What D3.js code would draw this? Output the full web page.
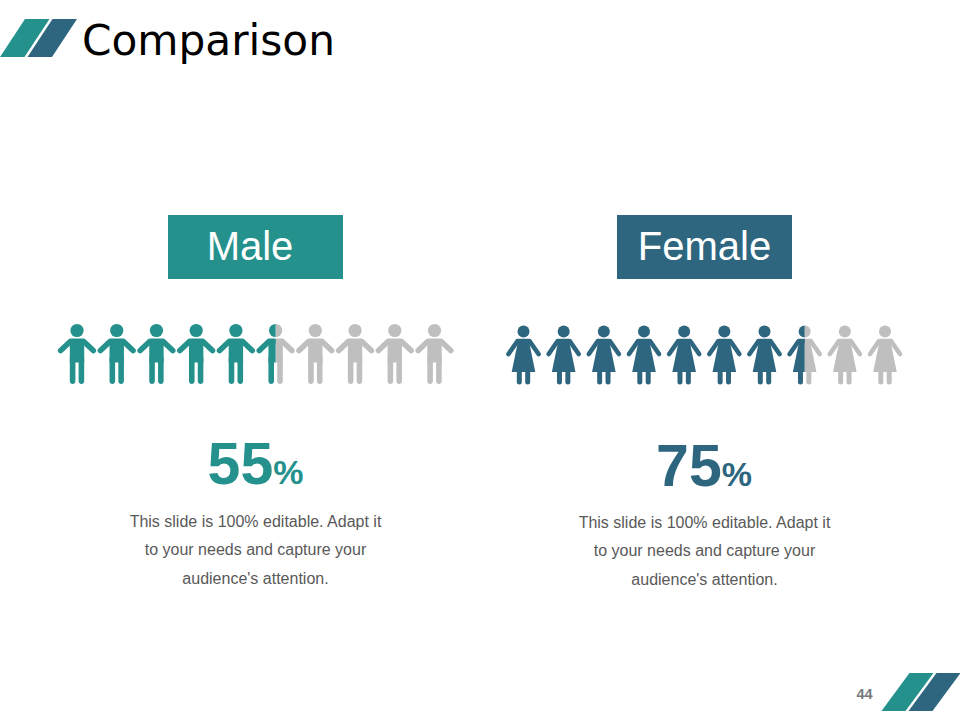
<!DOCTYPE html>
<html><head><meta charset="utf-8">
<script src="https://cdn.jsdelivr.net/npm/d3@7"></script>
<style>html,body{margin:0;padding:0;background:#fff}svg{display:block}text{font-family:"Liberation Sans",Arial,sans-serif}</style>
</head><body><svg id="c" width="960" height="720"></svg>
<script>
const title = "Comparison";
const pageNumber = "44";
const groups = ["Male", "Female"];
const percents = [55, 75];
const figureCounts = [10, 10];
const captionLines = ["This slide is 100% editable. Adapt it", "to your needs and capture your", "audience's attention."];

const TEAL = "#25918d", BLUE = "#2e6680", GREY = "#bfbfbf", TEXT = "#595959";
const svg = d3.select("#c");
const layout = [
  {color: TEAL, box: 168, boxC: 250, x0: 77, x1: 434.5, headY: 330.5, pctX: 255.5, pctY: 483.5, capX: 255.5, capY: 527},
  {color: BLUE, box: 617, boxC: 704.5, x0: 523.5, x1: 885, headY: 331.5, pctX: 704, pctY: 485.5, capX: 704.5, capY: 528}
];

// slanted bars
function slants(x, y, w, h, slant, offset) {
  [TEAL, BLUE].forEach((c, i) => {
    const ox = x + i * offset;
    svg.append("path").attr("fill", c)
      .attr("d", d3.line()([[ox, y + h], [ox + slant, y], [ox + slant + w, y], [ox + w, y + h]]) + "Z");
  });
}
slants(0, 19, 24.5, 38, 25, 27.5);
slants(881.5, 673, 24, 38, 28, 27);

svg.append("text").attr("x", 82).attr("y", 55).attr("font-size", 43.5)
  .style("font-family", "'DejaVu Sans'").attr("textLength", 253).attr("lengthAdjust", "spacingAndGlyphs")
  .attr("fill", "#000").text(title);
svg.append("text").attr("x", 864.5).attr("y", 699).attr("text-anchor", "middle")
  .attr("font-size", 14.5).attr("font-weight", "bold").attr("fill", "#767a7d").text(pageNumber);

const defs = svg.append("defs");

function drawMale(g, color) {
  g = g.append("g");
  g.append("circle").attr("r", 6.6).attr("fill", color);
  g.append("path").attr("fill", color).attr("d", "M-7.2,9 L7.2,9 L7.2,32 L-7.2,32 Z");
  g.append("path").attr("fill", "none").attr("stroke", color).attr("stroke-width", 5.6).attr("stroke-linecap", "round").attr("stroke-linejoin", "round")
    .attr("d", "M-16.3,20 L-6.5,10.8 L6.5,10.8 L16.3,20");
  g.append("path").attr("fill", "none").attr("stroke", color).attr("stroke-width", 5.6).attr("stroke-linecap", "round")
    .attr("d", "M-4.4,28 V50.6 M4.4,28 V50.6");
}
function drawFemale(g, color) {
  g = g.append("g");
  g.append("circle").attr("r", 6).attr("fill", color);
  g.append("path").attr("fill", color).attr("d", "M-5,7.5 L5,7.5 L11.8,40.5 L-11.8,40.5 Z");
  g.append("path").attr("fill", "none").attr("stroke", color).attr("stroke-width", 4.6).attr("stroke-linecap", "round").attr("stroke-linejoin", "round")
    .attr("d", "M-15,22.5 L-6,9.5 L6,9.5 L15,22.5");
  g.append("path").attr("fill", "none").attr("stroke", color).attr("stroke-width", 5).attr("stroke-linecap", "round")
    .attr("d", "M-4.2,40 V50.4 M4.2,40 V50.4");
}
const drawers = [drawMale, drawFemale];

groups.forEach((name, gi) => {
  const L = layout[gi];
  const n = figureCounts[gi];
  const step = (L.x1 - L.x0) / (n - 1);
  const pos = d3.scalePoint().domain(d3.range(n)).range([L.x0, L.x1]);
  const fillX = d3.scaleLinear().domain([0, 100]).range([L.x0 - step / 2, L.x1 + step / 2]);
  const split = fillX(percents[gi]);
  const clipId = "fill" + gi;
  defs.append("clipPath").attr("id", clipId).append("rect")
    .attr("x", 0).attr("y", 300).attr("width", split).attr("height", 110);
  const clipId2 = "rest" + gi;
  defs.append("clipPath").attr("id", clipId2).append("rect")
    .attr("x", split).attr("y", 300).attr("width", 960 - split).attr("height", 110);

  // label box
  svg.append("rect").attr("x", L.box).attr("y", 215).attr("width", 175).attr("height", 64).attr("fill", L.color);
  svg.append("text").attr("x", L.boxC).attr("y", 259.5).attr("text-anchor", "middle")
    .attr("font-size", 40).attr("fill", "#fff").text(name);

  // pictogram
  [[GREY, clipId2], [L.color, clipId]].forEach(([c, id]) => {
    const layer = svg.append("g").attr("clip-path", `url(#${id})`);
    d3.range(n).forEach(i => {
      drawers[gi](layer.append("g").attr("transform", `translate(${pos(i)},${L.headY})`), c);
    });
  });

  // percentage
  const t = svg.append("text").attr("x", L.pctX).attr("y", L.pctY).attr("text-anchor", "middle")
    .attr("font-weight", "bold").attr("fill", L.color);
  t.append("tspan").attr("font-size", 59).text(percents[gi]);
  t.append("tspan").attr("font-size", 34).text("%");

  // caption
  captionLines.forEach((line, i) => {
    svg.append("text").attr("x", L.capX).attr("y", L.capY + i * 28.4).attr("text-anchor", "middle")
      .attr("font-size", 16).attr("fill", TEXT).text(line);
  });
});
</script></body></html>
